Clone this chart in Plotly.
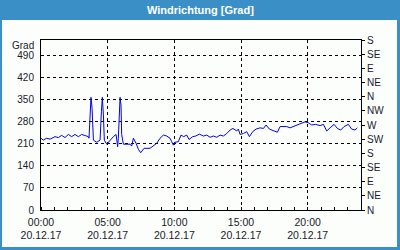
import plotly.graph_objects as go
import pandas as pd

hours = [0, 0.17, 0.43, 0.68, 1.05, 1.3, 1.55, 1.8, 2.05, 2.3, 2.55, 2.8, 3.05, 3.3, 3.55, 3.6,
         3.68, 3.75, 3.83, 3.93, 4.18, 4.43, 4.53, 4.6, 4.68, 4.75, 4.93, 5.18, 5.43, 5.63, 5.75,
         5.8, 5.93, 6.0, 6.05, 6.18, 6.55, 6.68, 6.8, 6.93, 7.13, 7.3, 7.48, 7.73, 8.18, 8.43,
         8.68, 8.93, 9.18, 9.43, 9.68, 9.8, 9.93, 10.05, 10.3, 10.5, 10.7, 10.93, 11.1, 11.38,
         11.6, 11.88, 12.18, 12.43, 12.68, 12.93, 13.18, 13.43, 13.68, 13.93, 14.18, 14.4, 14.68,
         14.8, 14.93, 15.18, 15.43, 15.63, 15.88, 16.13, 16.43, 16.68, 16.88, 17.13, 17.43, 17.73,
         17.93, 18.43, 18.68, 18.93, 19.18, 19.48, 19.8, 20.05, 20.3, 20.6, 20.93, 21.18, 21.43,
         21.68, 21.98, 22.23, 22.48, 22.73, 23.05, 23.3, 23.55, 23.73]
grad = [228, 222, 228, 225, 233, 230, 237, 230, 240, 233, 240, 233, 240, 236, 233, 228,
        323, 358, 323, 222, 215, 222, 312, 358, 302, 222, 209, 222, 233, 240, 201,
        228, 358, 333, 240, 209, 209, 209, 203, 228, 212, 193, 182, 196, 196, 203,
        212, 228, 238, 235, 228, 217, 206, 215, 217, 238, 233, 238, 224, 233,
        235, 241, 235, 238, 231, 235, 231, 238, 235, 243, 254, 259, 251,
        257, 240, 243, 249, 233, 249, 257, 261, 259, 270, 257, 251, 247,
        265, 265, 261, 265, 270, 275, 280, 277, 270, 272, 268, 272, 251,
        261, 272, 259, 254, 265, 272, 257, 254, 261]

left_ticks = [0, 70, 140, 210, 280, 350, 420, 490]
right_vals = [0, 45, 90, 135, 180, 225, 270, 315, 360, 405, 450, 495, 540]
right_text = ["N", "NE", "E", "SE", "S", "SW", "W", "NW", "N", "NE", "E", "SE", "S"]

base = pd.Timestamp("2017-12-20 00:00")
times = [base + pd.Timedelta(hours=h) for h in hours]
x_ticks = [base + pd.Timedelta(hours=h) for h in [0, 5, 10, 15, 20]]
x_text = [t.strftime("%H:%M") + "<br>" + t.strftime("%d.%m.%y") for t in x_ticks]

FONT = "Liberation Sans, Arial, sans-serif"
TXT = "#1a1a2a"
BLUE = "#3b8fc7"

fig = go.Figure()
fig.add_trace(go.Scatter(x=times, y=grad, mode="lines",
                         line=dict(color="#0000ee", width=1), showlegend=False,
                         hoverinfo="skip"))
fig.add_trace(go.Scatter(x=[times[0]], y=[0], yaxis="y2", mode="markers",
                         marker=dict(opacity=0), showlegend=False, hoverinfo="skip"))

fig.update_layout(
    width=400, height=250,
    margin=dict(l=41, r=39, t=40, b=40),
    paper_bgcolor=BLUE,
    plot_bgcolor="rgba(0,0,0,0)",
    font=dict(family=FONT, size=10, color=TXT),
    xaxis=dict(
        range=[base, base + pd.Timedelta(hours=24)],
        tickvals=x_ticks, ticktext=x_text, automargin=False,
        showgrid=True, gridcolor="black", griddash="3px,3px", gridwidth=1,
        showline=True, linecolor="black", linewidth=1, mirror=True,
        ticks="", zeroline=False, ticklabelstandoff=2,
        tickfont=dict(family=FONT, size=10.5, color=TXT),
        minor=dict(dtick=3600000, tick0=base, ticks="inside", ticklen=3,
                   tickcolor="black", showgrid=False),
    ),
    yaxis=dict(
        range=[0, 540], tickvals=left_ticks, automargin=False,
        showgrid=True, gridcolor="black", griddash="3px,3px", gridwidth=1,
        showline=True, linecolor="black", linewidth=1, mirror=True,
        ticks="", zeroline=False, ticklabelstandoff=4,
        tickfont=dict(family=FONT, size=10, color=TXT),
    ),
    yaxis2=dict(
        range=[0, 540], tickvals=right_vals, ticktext=right_text,
        overlaying="y", side="right", showgrid=False, automargin=False,
        showline=True, linecolor="black", linewidth=1,
        ticks="outside", ticklen=3, tickcolor="black", zeroline=False,
        tickfont=dict(family=FONT, size=10, color=TXT),
    ),
    shapes=[dict(type="rect", xref="paper", yref="paper", layer="below",
                 x0=-39 / 320, x1=1 + 36 / 320, y0=-37 / 170, y1=1 + 20 / 170,
                 fillcolor="#fcfefc", line=dict(width=0))],
    annotations=[
        dict(text="<b>Windrichtung [Grad]</b>", xref="paper", yref="paper",
             x=(200 - 41) / 320, y=1 + 30 / 170, showarrow=False,
             font=dict(family=FONT, size=11, color="white"),
             xanchor="center", yanchor="middle"),
        dict(text="Grad", xref="paper", yref="paper", x=-5 / 320, y=1 - 5 / 170,
             showarrow=False, xanchor="right", yanchor="middle",
             font=dict(family=FONT, size=10, color=TXT)),
    ],
)

fig.write_html("out.html")
